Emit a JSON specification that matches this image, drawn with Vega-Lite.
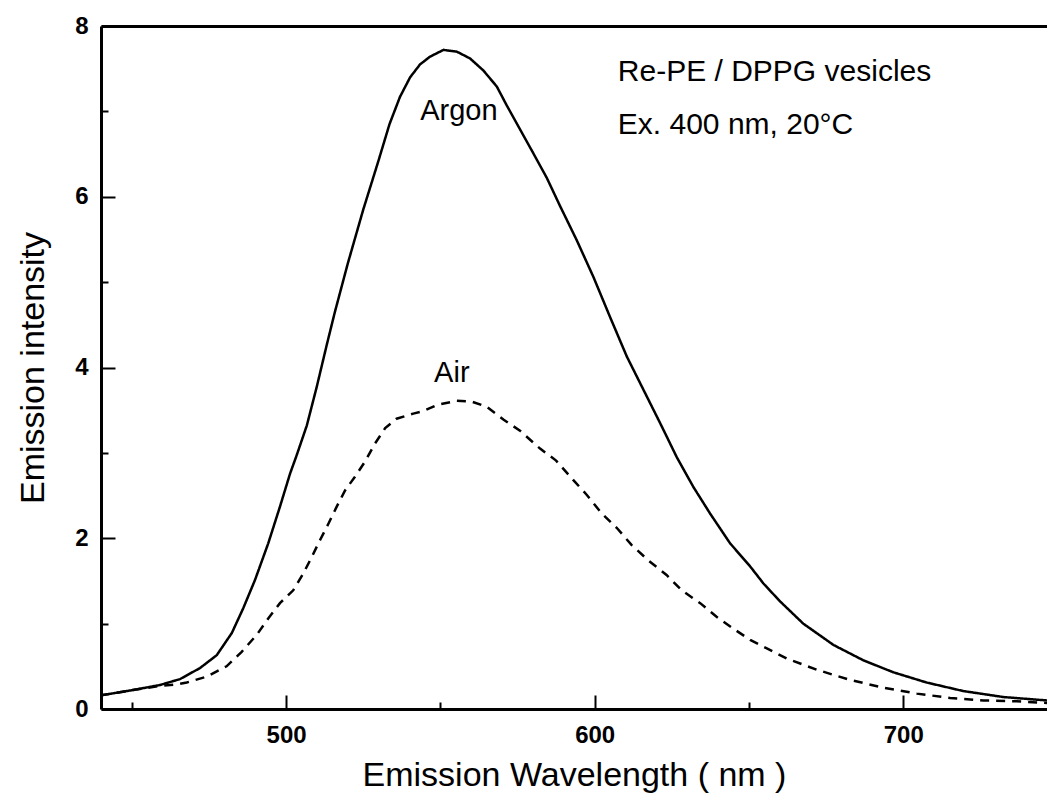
{
  "$schema": "https://vega.github.io/schema/vega-lite/v6.json",
  "width": 946,
  "height": 683,
  "autosize": {"type": "none"},
  "padding": {"left": 101, "top": 26, "right": 0, "bottom": 101},
  "background": "white",
  "config": {
    "view": {"stroke": null},
    "font": "Liberation Sans",
    "axis": {"grid": false, "domainColor": "black", "tickColor": "black", "labelColor": "black", "titleColor": "black", "labelFont": "Liberation Sans", "titleFont": "Liberation Sans"}
  },
  "datasets": {
    "spectra": [
      {"wl": 440, "I": 0.16, "series": "Argon"},
      {"wl": 450, "I": 0.22, "series": "Argon"},
      {"wl": 459, "I": 0.28, "series": "Argon"},
      {"wl": 465.6, "I": 0.35, "series": "Argon"},
      {"wl": 472.1, "I": 0.48, "series": "Argon"},
      {"wl": 477.5, "I": 0.63, "series": "Argon"},
      {"wl": 482.4, "I": 0.89, "series": "Argon"},
      {"wl": 486.1, "I": 1.18, "series": "Argon"},
      {"wl": 489.9, "I": 1.51, "series": "Argon"},
      {"wl": 494.2, "I": 1.94, "series": "Argon"},
      {"wl": 498.0, "I": 2.37, "series": "Argon"},
      {"wl": 501.3, "I": 2.76, "series": "Argon"},
      {"wl": 503.4, "I": 2.97, "series": "Argon"},
      {"wl": 506.7, "I": 3.32, "series": "Argon"},
      {"wl": 509.9, "I": 3.77, "series": "Argon"},
      {"wl": 513.2, "I": 4.27, "series": "Argon"},
      {"wl": 515.8, "I": 4.65, "series": "Argon"},
      {"wl": 520, "I": 5.22, "series": "Argon"},
      {"wl": 525, "I": 5.85, "series": "Argon"},
      {"wl": 530, "I": 6.43, "series": "Argon"},
      {"wl": 533.5, "I": 6.85, "series": "Argon"},
      {"wl": 536.9, "I": 7.17, "series": "Argon"},
      {"wl": 540.2, "I": 7.40, "series": "Argon"},
      {"wl": 543.4, "I": 7.55, "series": "Argon"},
      {"wl": 546.6, "I": 7.64, "series": "Argon"},
      {"wl": 551.0, "I": 7.72, "series": "Argon"},
      {"wl": 555.3, "I": 7.70, "series": "Argon"},
      {"wl": 559.6, "I": 7.62, "series": "Argon"},
      {"wl": 563.9, "I": 7.48, "series": "Argon"},
      {"wl": 568.3, "I": 7.29, "series": "Argon"},
      {"wl": 571.5, "I": 7.07, "series": "Argon"},
      {"wl": 575.8, "I": 6.79, "series": "Argon"},
      {"wl": 580.1, "I": 6.51, "series": "Argon"},
      {"wl": 584.5, "I": 6.22, "series": "Argon"},
      {"wl": 588.8, "I": 5.89, "series": "Argon"},
      {"wl": 594.2, "I": 5.49, "series": "Argon"},
      {"wl": 599.6, "I": 5.06, "series": "Argon"},
      {"wl": 605.0, "I": 4.59, "series": "Argon"},
      {"wl": 610.4, "I": 4.13, "series": "Argon"},
      {"wl": 615.8, "I": 3.74, "series": "Argon"},
      {"wl": 621.2, "I": 3.35, "series": "Argon"},
      {"wl": 626.6, "I": 2.95, "series": "Argon"},
      {"wl": 632.0, "I": 2.60, "series": "Argon"},
      {"wl": 637.4, "I": 2.29, "series": "Argon"},
      {"wl": 643.9, "I": 1.94, "series": "Argon"},
      {"wl": 650.4, "I": 1.67, "series": "Argon"},
      {"wl": 654.7, "I": 1.47, "series": "Argon"},
      {"wl": 660.1, "I": 1.26, "series": "Argon"},
      {"wl": 667.6, "I": 1.00, "series": "Argon"},
      {"wl": 677.4, "I": 0.75, "series": "Argon"},
      {"wl": 687.1, "I": 0.57, "series": "Argon"},
      {"wl": 696.8, "I": 0.43, "series": "Argon"},
      {"wl": 707.6, "I": 0.31, "series": "Argon"},
      {"wl": 719.5, "I": 0.21, "series": "Argon"},
      {"wl": 732.5, "I": 0.14, "series": "Argon"},
      {"wl": 746.6, "I": 0.10, "series": "Argon"},
      {"wl": 440, "I": 0.16, "series": "Air"},
      {"wl": 450, "I": 0.22, "series": "Air"},
      {"wl": 459, "I": 0.27, "series": "Air"},
      {"wl": 465, "I": 0.29, "series": "Air"},
      {"wl": 467.8, "I": 0.31, "series": "Air"},
      {"wl": 474.3, "I": 0.38, "series": "Air"},
      {"wl": 480.7, "I": 0.50, "series": "Air"},
      {"wl": 485.6, "I": 0.67, "series": "Air"},
      {"wl": 490.5, "I": 0.87, "series": "Air"},
      {"wl": 494.2, "I": 1.06, "series": "Air"},
      {"wl": 498.0, "I": 1.24, "series": "Air"},
      {"wl": 502.3, "I": 1.39, "series": "Air"},
      {"wl": 505.6, "I": 1.59, "series": "Air"},
      {"wl": 508.3, "I": 1.78, "series": "Air"},
      {"wl": 511.0, "I": 1.98, "series": "Air"},
      {"wl": 513.7, "I": 2.17, "series": "Air"},
      {"wl": 516.4, "I": 2.37, "series": "Air"},
      {"wl": 519.1, "I": 2.56, "series": "Air"},
      {"wl": 522.3, "I": 2.72, "series": "Air"},
      {"wl": 525.6, "I": 2.90, "series": "Air"},
      {"wl": 528.8, "I": 3.11, "series": "Air"},
      {"wl": 532.1, "I": 3.29, "series": "Air"},
      {"wl": 535.8, "I": 3.40, "series": "Air"},
      {"wl": 541.2, "I": 3.46, "series": "Air"},
      {"wl": 544.5, "I": 3.49, "series": "Air"},
      {"wl": 548.8, "I": 3.56, "series": "Air"},
      {"wl": 555.3, "I": 3.61, "series": "Air"},
      {"wl": 560.2, "I": 3.60, "series": "Air"},
      {"wl": 565.0, "I": 3.54, "series": "Air"},
      {"wl": 570.4, "I": 3.39, "series": "Air"},
      {"wl": 575.8, "I": 3.26, "series": "Air"},
      {"wl": 582.3, "I": 3.05, "series": "Air"},
      {"wl": 587.5, "I": 2.91, "series": "Air"},
      {"wl": 593.1, "I": 2.68, "series": "Air"},
      {"wl": 597.4, "I": 2.51, "series": "Air"},
      {"wl": 602.3, "I": 2.29, "series": "Air"},
      {"wl": 607.2, "I": 2.12, "series": "Air"},
      {"wl": 612.0, "I": 1.92, "series": "Air"},
      {"wl": 617.4, "I": 1.74, "series": "Air"},
      {"wl": 623.3, "I": 1.57, "series": "Air"},
      {"wl": 628.2, "I": 1.39, "series": "Air"},
      {"wl": 634.2, "I": 1.24, "series": "Air"},
      {"wl": 639.5, "I": 1.08, "series": "Air"},
      {"wl": 645.0, "I": 0.94, "series": "Air"},
      {"wl": 650.4, "I": 0.81, "series": "Air"},
      {"wl": 655.8, "I": 0.71, "series": "Air"},
      {"wl": 662.3, "I": 0.59, "series": "Air"},
      {"wl": 672.0, "I": 0.46, "series": "Air"},
      {"wl": 682.8, "I": 0.34, "series": "Air"},
      {"wl": 693.6, "I": 0.25, "series": "Air"},
      {"wl": 704.4, "I": 0.18, "series": "Air"},
      {"wl": 715.2, "I": 0.13, "series": "Air"},
      {"wl": 726.0, "I": 0.10, "series": "Air"},
      {"wl": 736.8, "I": 0.09, "series": "Air"},
      {"wl": 746.6, "I": 0.07, "series": "Air"}
    ],
    "curveLabels": [
      {"wl": 556.0, "I": 6.9, "label": "Argon"},
      {"wl": 553.7, "I": 3.83, "label": "Air"}
    ],
    "notes": [
      {"wl": 607.5, "I": 7.35, "label": "Re-PE / DPPG vesicles"},
      {"wl": 607.5, "I": 6.74, "label": "Ex. 400 nm, 20°C"}
    ]
  },
  "resolve": {"axis": {"x": "independent", "y": "independent"}},
  "layer": [
    {
      "data": {"name": "spectra"},
      "mark": {"type": "line", "stroke": "black", "strokeWidth": 2.5, "clip": true},
      "encoding": {
        "x": {
          "field": "wl", "type": "quantitative",
          "scale": {"domain": [440, 746.6], "nice": false, "zero": false},
          "axis": {
            "orient": "bottom",
            "title": "Emission Wavelength ( nm )",
            "titleFontSize": 34, "titleFontWeight": "normal", "titlePadding": 11,
            "values": [500, 600, 700],
            "labelFontSize": 24, "labelFontWeight": "bold", "labelPadding": 28,
            "tickSize": -14,
            "tickWidth": 2, "domainWidth": 3
          }
        },
        "y": {
          "field": "I", "type": "quantitative",
          "scale": {"domain": [0, 8], "nice": false},
          "axis": {
            "orient": "left",
            "title": "Emission intensity",
            "titleFontSize": 34, "titleFontWeight": "normal", "titlePadding": 24,
            "values": [0, 2, 4, 6, 8],
            "labelFontSize": 24, "labelFontWeight": "bold", "labelPadding": 27,
            "tickSize": -14,
            "tickWidth": 2, "domainWidth": 3
          }
        },
        "detail": {"field": "series"},
        "strokeDash": {
          "field": "series", "type": "nominal",
          "scale": {"domain": ["Argon", "Air"], "range": [[1, 0], [9, 7]]},
          "legend": null
        }
      }
    },
    {
      "data": {"name": "curveLabels"},
      "mark": {"type": "text", "fontSize": 29, "font": "Liberation Sans", "align": "center", "baseline": "alphabetic", "color": "black"},
      "encoding": {
        "x": {"field": "wl", "type": "quantitative", "axis": {"orient": "top", "labels": false, "ticks": false, "domain": true, "domainWidth": 3, "title": null}},
        "y": {"field": "I", "type": "quantitative", "axis": {"orient": "left", "values": [1, 3, 5, 7], "labels": false, "domain": false, "tickSize": -7, "tickWidth": 2, "title": null}},
        "text": {"field": "label"}
      }
    },
    {
      "data": {"name": "notes"},
      "mark": {"type": "text", "fontSize": 30, "font": "Liberation Sans", "align": "left", "baseline": "alphabetic", "color": "black"},
      "encoding": {
        "x": {"field": "wl", "type": "quantitative", "axis": {"orient": "bottom", "values": [450, 550, 650], "labels": false, "domain": false, "tickSize": -7, "tickWidth": 2, "title": null}},
        "y": {"field": "I", "type": "quantitative", "axis": null},
        "text": {"field": "label"}
      }
    }
  ]
}
